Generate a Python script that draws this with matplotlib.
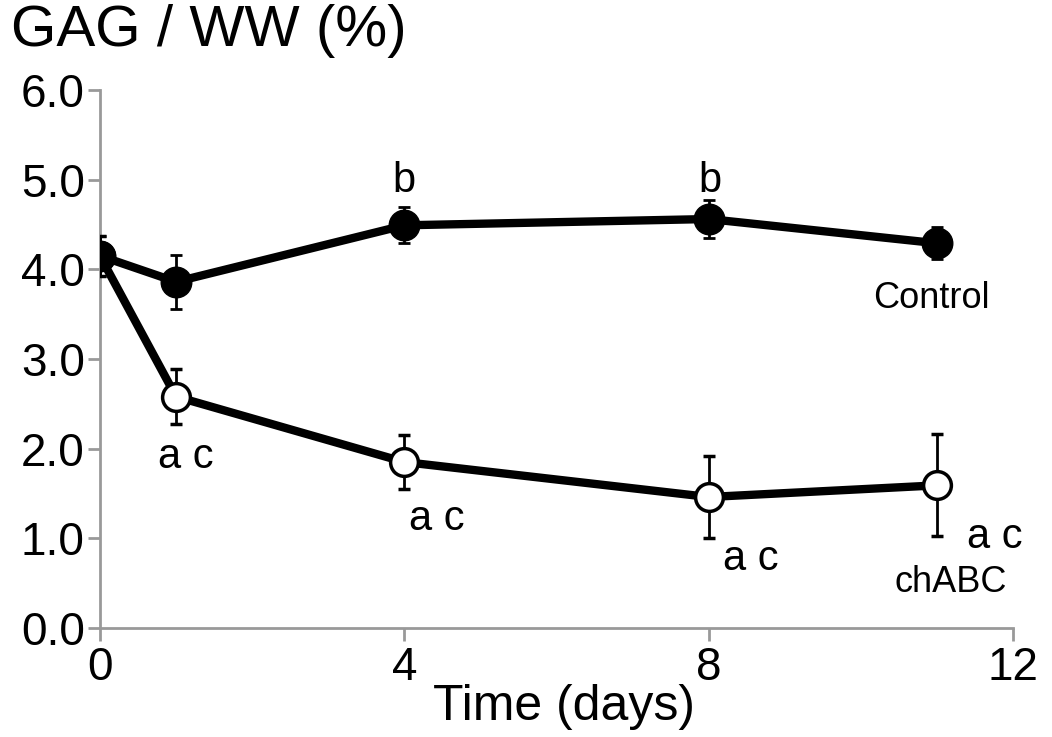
import matplotlib.pyplot as plt

plt.rcParams['font.family'] = ['Liberation Sans', 'DejaVu Sans']

days = [0, 1, 4, 8, 11]
control = [4.15, 3.86, 4.49, 4.56, 4.29]
control_err = [0.22, 0.30, 0.20, 0.21, 0.18]
chabc = [4.15, 2.58, 1.85, 1.46, 1.59]
chabc_err = [0.22, 0.31, 0.30, 0.46, 0.57]

x_ticks = [0, 4, 8, 12]
y_ticks = [0.0, 1.0, 2.0, 3.0, 4.0, 5.0, 6.0]

# letters / names next to the points: (x, baseline y, text, size)
labels = [
    (4.0, 4.86, 'b', 30),
    (8.02, 4.86, 'b', 30),
    (1.13, 1.78, 'a c', 30),
    (4.43, 1.09, 'a c', 30),
    (8.55, 0.65, 'a c', 30),
    (11.76, 0.89, 'a c', 30),
    (10.93, 3.57, 'Control', 26),
    (11.18, 0.40, 'chABC', 26),
]

fig = plt.figure(figsize=(10.52, 7.37), dpi=100)
ax = fig.add_axes([0.095, 0.148, 0.868, 0.73])

gray = '#999999'
ax.errorbar(days, chabc, yerr=chabc_err, color='black', lw=6, marker='o',
            markersize=20, markerfacecolor='white', markeredgecolor='black',
            markeredgewidth=2.5, ecolor='black', elinewidth=2, capsize=4.5,
            capthick=2, zorder=3)
ax.errorbar(days, control, yerr=control_err, color='black', lw=6, marker='o',
            markersize=22, markerfacecolor='black', markeredgecolor='black',
            ecolor='black', elinewidth=2, capsize=4.5, capthick=2, zorder=4)

for x, y, t, s in labels:
    ax.text(x, y, t, fontsize=s, ha='center', va='baseline')

ax.set_xlim(0, 12)
ax.set_ylim(0, 6)
ax.set_xticks(x_ticks)
ax.set_yticks(y_ticks)
ax.set_yticklabels(['%.1f' % v for v in y_ticks])
ax.spines['top'].set_visible(False)
ax.spines['right'].set_visible(False)
ax.spines['left'].set_color(gray)
ax.spines['bottom'].set_color(gray)
ax.spines['left'].set_linewidth(2)
ax.spines['bottom'].set_linewidth(2)
ax.tick_params(axis='both', colors=gray, width=2, length=9, labelsize=33,
               labelcolor='black', pad=2)
ax.tick_params(axis='x', pad=4)

fig.text(564 / 1052, 0.023, 'Time (days)', fontsize=36, ha='center', va='baseline')
fig.text(0.01, 0.995, 'GAG / WW (%)', fontsize=42, ha='left', va='top')

fig.savefig('out.png', dpi=100)
